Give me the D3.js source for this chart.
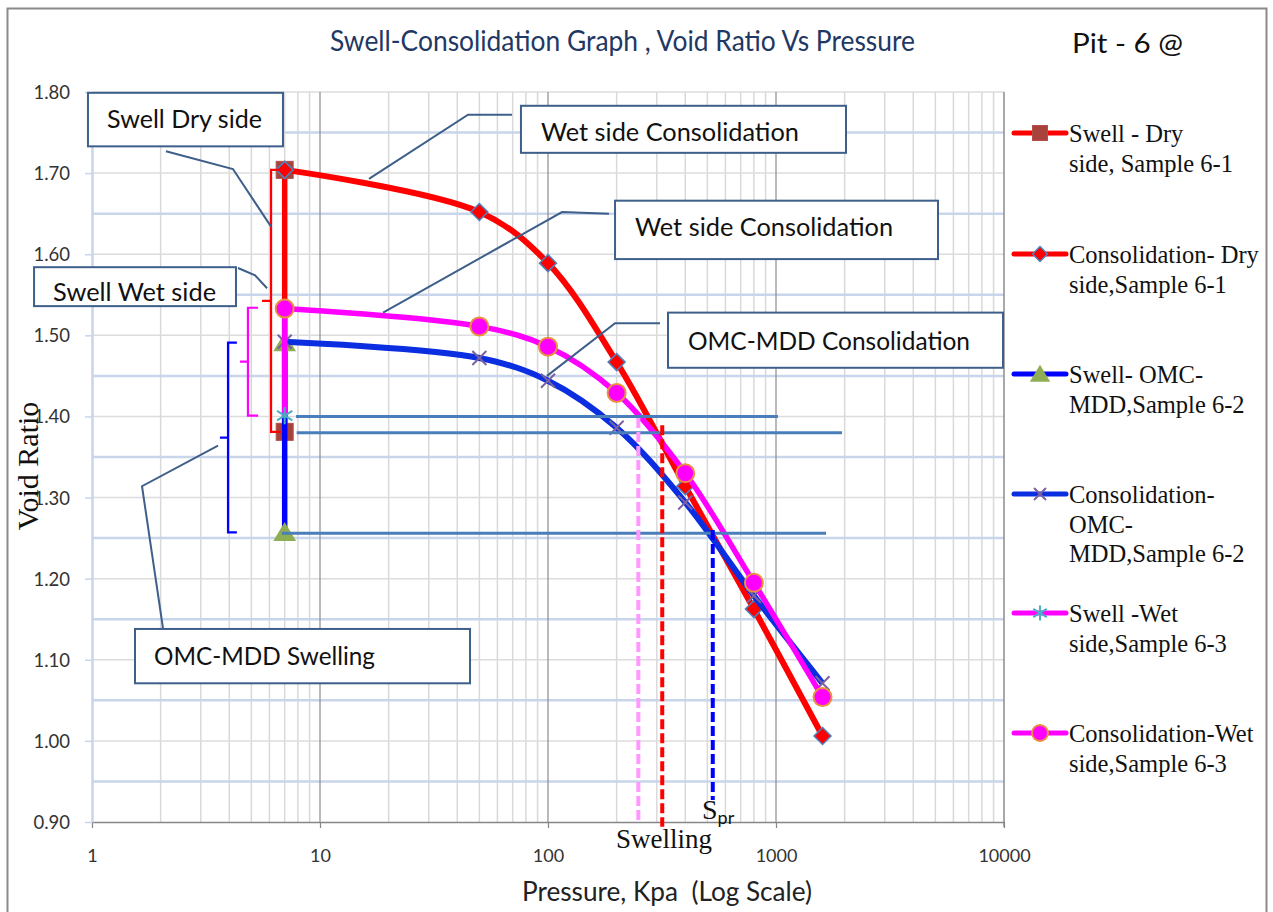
<!DOCTYPE html>
<html>
<head>
<meta charset="utf-8">
<script src="https://cdn.jsdelivr.net/npm/d3@7"></script>
<style>
  body { margin: 0; background: #fff; }
  svg { display: block; }
</style>
</head>
<body>
<svg id="chart" width="1273" height="912"></svg>
<script>
// ---- Data -------------------------------------------------------------
// Applied pressure (kPa) at each step
const swellPressure = [7, 7];
const consolidationPressure = [7, 50, 100, 200, 400, 800, 1600];

// Void ratio readings
const swellDry = [1.704, 1.381];
const consolidationDry = [1.704, 1.652, 1.589, 1.467, 1.314, 1.1625, 1.006];
const swellOmc = [1.491, 1.257];
const consolidationOmc = [1.492, 1.472, 1.444, 1.386, 1.294, 1.179, 1.071];
const swellWet = [1.534, 1.401];
const consolidationWet = [1.533, 1.511, 1.486, 1.429, 1.330, 1.195, 1.054];

// Legend labels, one entry per series (wrapped lines)
const seriesLabels = [
  ["Swell - Dry", "side, Sample 6-1"],
  ["Consolidation- Dry", "side,Sample 6-1"],
  ["Swell- OMC-", "MDD,Sample 6-2"],
  ["Consolidation-", "OMC-", "MDD,Sample 6-2"],
  ["Swell -Wet", "side,Sample 6-3"],
  ["Consolidation-Wet", "side,Sample 6-3"]
];

// Axis ticks
const xTicks = [1, 10, 100, 1000, 10000];
const yTicks = [0.90, 1.00, 1.10, 1.20, 1.30, 1.40, 1.50, 1.60, 1.70, 1.80];

// Swelling pressures (kPa) and the void-ratio levels used
const swellingPressure = [249, 317, 528];
const swellingPressureTop = [1.398, 1.389, 1.26];
const swellingPressureBottom = [0.90, 0.894, 0.927];
const referenceLevels = [1.40, 1.38, 1.256];
const referenceFrom = [7.85, 7.9, 6.81];
const referenceTo = [1020, 1947, 1657];

// ---- Layout -----------------------------------------------------------
const svg = d3.select("#chart");
const x = d3.scaleLog().domain([1, 10000]).range([92, 1004]);
const y = d3.scaleLinear().domain([0.9, 1.8]).range([822, 92]);

const SANS = "Lato, 'Open Sans', sans-serif";
const SERIF = "'Liberation Serif', 'DejaVu Serif', serif";

// outer chart frame
svg.append("rect")
  .attr("x", 7.5).attr("y", 8.5).attr("width", 1259).attr("height", 920)
  .attr("fill", "#fff").attr("stroke", "#8a8a8a").attr("stroke-width", 2);

// ---- Grid -------------------------------------------------------------
const grid = svg.append("g");
const minorX = [];
[1, 10, 100, 1000].forEach(d => { for (let k = 2; k <= 9; k++) minorX.push(d * k); });

grid.selectAll("line.minor-x").data(minorX).join("line")
  .attr("x1", d => x(d)).attr("x2", d => x(d))
  .attr("y1", y(1.8)).attr("y2", y(0.9))
  .attr("stroke", "#d9d9d9").attr("stroke-width", 1.5);

const halfSteps = d3.range(1, 19).map(i => ({ v: 0.9 + i * 0.05, half: i % 2 === 1 }));
grid.selectAll("line.h").data(halfSteps).join("line")
  .attr("x1", x(1)).attr("x2", x(10000))
  .attr("y1", d => y(d.v)).attr("y2", d => y(d.v))
  .attr("stroke", d => d.half ? "#c8d5ea" : "#dcdcdc")
  .attr("stroke-width", d => d.half ? 2.5 : 1.5);

grid.selectAll("line.major-x").data([10, 100, 1000]).join("line")
  .attr("x1", d => x(d)).attr("x2", d => x(d))
  .attr("y1", y(1.8)).attr("y2", y(0.9))
  .attr("stroke", "#8c8c8c").attr("stroke-width", 1.2);

// right edge of the plot area
grid.append("line")
  .attr("x1", x(10000)).attr("x2", x(10000))
  .attr("y1", y(1.8)).attr("y2", y(0.9) + 5)
  .attr("stroke", "#8c8c8c").attr("stroke-width", 1.5);

// ---- Axes -------------------------------------------------------------
const xAxis = svg.append("g")
  .attr("transform", `translate(0,${y(0.9)})`)
  .call(d3.axisBottom(x).tickValues(xTicks).tickFormat(d3.format("d")).tickSize(6).tickSizeOuter(0));
xAxis.select(".domain").attr("stroke", "#868686").attr("stroke-width", 1.5);
xAxis.selectAll(".tick line").attr("stroke", "#868686").attr("stroke-width", 1.2);
xAxis.selectAll(".tick text")
  .attr("y", 40).attr("dy", 0)
  .attr("font-family", SANS).attr("font-size", 18).attr("fill", "#333");

const yAxis = svg.append("g")
  .attr("transform", `translate(${x(1)},0)`)
  .call(d3.axisLeft(y).tickValues(yTicks).tickFormat(d3.format(".2f")).tickSize(7).tickSizeOuter(0));
yAxis.select(".domain").attr("stroke", "#c8d5ea").attr("stroke-width", 2.5);
yAxis.selectAll(".tick line").attr("stroke", "#c8d5ea").attr("stroke-width", 1.5);
yAxis.selectAll(".tick text")
  .attr("x", -22).attr("dy", "0.35em")
  .attr("font-family", SANS).attr("font-size", 18.5).attr("fill", "#333");

// ---- Series -----------------------------------------------------------
const markers = {
  square: (g, c, s) => g.append("rect").attr("x", -s / 2).attr("y", -s / 2).attr("width", s).attr("height", s)
    .attr("fill", c.fill).attr("stroke", c.stroke).attr("stroke-width", 1),
  diamond: (g, c, s) => g.append("path").attr("d", `M0,${-s / 2}L${s / 2},0L0,${s / 2}L${-s / 2},0Z`)
    .attr("fill", c.fill).attr("stroke", c.stroke).attr("stroke-width", 1.5),
  triangle: (g, c, s) => g.append("path").attr("d", `M0,${-s * 0.55}L${s * 0.6},${s * 0.45}L${-s * 0.6},${s * 0.45}Z`)
    .attr("fill", c.fill),
  cross: (g, c, s) => g.append("path").attr("d", `M${-s / 2},${-s / 2}L${s / 2},${s / 2}M${s / 2},${-s / 2}L${-s / 2},${s / 2}`)
    .attr("stroke", c.stroke).attr("stroke-width", 2).attr("fill", "none"),
  star: (g, c, s) => g.append("path")
    .attr("d", `M0,${-s / 2}L0,${s / 2}M${-s * 0.45},${-s * 0.28}L${s * 0.45},${s * 0.28}M${s * 0.45},${-s * 0.28}L${-s * 0.45},${s * 0.28}`)
    .attr("stroke", c.stroke).attr("stroke-width", 2).attr("fill", "none"),
  circle: (g, c, s) => g.append("circle").attr("r", s / 2)
    .attr("fill", c.fill).attr("stroke", c.stroke).attr("stroke-width", 2)
};

const series = [
  { p: swellPressure, e: swellDry, color: "#ff0000", width: 5.5, smooth: false,
    marker: "square", mc: { fill: "#a8423d", stroke: "#b54e49" }, size: 17 },
  { p: consolidationPressure, e: consolidationDry, color: "#ff0000", width: 6, smooth: true,
    marker: "diamond", mc: { fill: "#ff0000", stroke: "#4f81bd" }, size: 17 },
  { p: swellPressure, e: swellOmc, color: "#0000ff", width: 5.5, smooth: false,
    marker: "triangle", mc: { fill: "#8fad52" }, size: 19 },
  { p: consolidationPressure, e: consolidationOmc, color: "#0a2ee0", width: 6, smooth: true,
    marker: "cross", mc: { stroke: "#7c62a0" }, size: 14 },
  { p: swellPressure, e: swellWet, color: "#ff00ff", width: 5.5, smooth: false,
    marker: "star", mc: { stroke: "#4bacc6" }, size: 17 },
  { p: consolidationPressure, e: consolidationWet, color: "#ff00ff", width: 5.5, smooth: true,
    marker: "circle", mc: { fill: "#ff00ff", stroke: "#e8913e" }, size: 18 }
];

const plot = svg.append("g");
series.forEach(s => {
  const pts = s.p.map((p, i) => [p, s.e[i]]);
  const line = d3.line().x(d => x(d[0])).y(d => y(d[1]));
  if (s.smooth) line.curve(d3.curveCatmullRom.alpha(0.5));
  plot.append("path").datum(pts).attr("d", line)
    .attr("fill", "none").attr("stroke", s.color).attr("stroke-width", s.width)
    .attr("stroke-linejoin", "round");
  pts.forEach(d => {
    const g = plot.append("g").attr("transform", `translate(${x(d[0])},${y(d[1])})`);
    markers[s.marker](g, s.mc, s.size);
  });
});

// ---- Reference lines --------------------------------------------------
const refs = svg.append("g");
referenceLevels.forEach((lv, i) => {
  refs.append("line")
    .attr("x1", x(referenceFrom[i])).attr("x2", x(referenceTo[i]))
    .attr("y1", y(lv)).attr("y2", y(lv))
    .attr("stroke", "#4a7ebb").attr("stroke-width", 3);
});

const dashColors = ["#ff99ff", "#ff0000", "#0000ff"];
swellingPressure.forEach((p, i) => {
  refs.append("line")
    .attr("x1", x(p)).attr("x2", x(p))
    .attr("y1", y(swellingPressureTop[i])).attr("y2", y(swellingPressureBottom[i]))
    .attr("stroke", dashColors[i]).attr("stroke-width", 4)
    .attr("stroke-dasharray", "10,4");
});

// brackets marking the swell range of each sample
const brackets = [
  { range: swellDry, stem: 6.10, tip: 6.74, notch: 5.57, color: "#ff0000" },
  { range: swellWet, stem: 4.83, tip: 5.35, notch: 4.46, color: "#ff00ff" },
  { range: swellOmc, stem: 3.95, tip: 4.32, notch: 3.64, color: "#0000ff" }
];
brackets.forEach(b => {
  const top = y(b.range[0]), bot = y(b.range[1]), mid = (top + bot) / 2;
  refs.append("path")
    .attr("d", `M${x(b.tip)},${top}H${x(b.stem)}V${bot}H${x(b.tip)}M${x(b.stem)},${mid}H${x(b.notch)}`)
    .attr("fill", "none").attr("stroke", b.color).attr("stroke-width", 2.2);
});

// ---- Callouts ---------------------------------------------------------
// box: [pressure left, void ratio top, pressure right, void ratio bottom]
const callouts = [
  { text: "Swell Dry side", box: [0.96, 1.799, 6.88, 1.733], pad: 19, base: 35, len: 155,
    leader: [[2.11, 1.727], [4.15, 1.705], [6.10, 1.634]] },
  { text: "Swell Wet side", box: [0.557, 1.584, 4.28, 1.536], pad: 19, base: 34, len: 163,
    leader: [[4.37, 1.583], [5.19, 1.574], [5.86, 1.558]] },
  { text: "Wet side Consolidation", box: [76.1, 1.783, 2028, 1.725], pad: 20, base: 35, len: 258,
    leader: [[16.4, 1.693], [44.6, 1.772], [69.5, 1.772]] },
  { text: "Wet side Consolidation", box: [196.8, 1.666, 5135, 1.594], pad: 20, base: 35, len: 258,
    leader: [[18.9, 1.528], [115.2, 1.652], [185.1, 1.650]] },
  { text: "OMC-MDD Consolidation", box: [336, 1.528, 9899, 1.460], pad: 20, base: 37, len: 282,
    leader: [[99, 1.450], [196.8, 1.515], [310, 1.515]] },
  { text: "OMC-MDD Swelling", box: [1.544, 1.138, 45.5, 1.071], pad: 19, base: 36, len: 221,
    leader: [[2.05, 1.138], [1.657, 1.314], [3.57, 1.364]] }
];
const notes = svg.append("g");
callouts.forEach(c => {
  notes.append("path")
    .attr("d", d3.line().x(d => x(d[0])).y(d => y(d[1]))(c.leader))
    .attr("fill", "none").attr("stroke", "#3d5f8a").attr("stroke-width", 2);
  const x0 = x(c.box[0]), y0 = y(c.box[1]), x1 = x(c.box[2]), y1 = y(c.box[3]);
  notes.append("rect")
    .attr("x", x0).attr("y", y0).attr("width", x1 - x0).attr("height", y1 - y0)
    .attr("fill", "#fff").attr("stroke", "#3d5f8a").attr("stroke-width", 2);
  notes.append("text")
    .attr("x", x0 + c.pad).attr("y", y0 + c.base)
    .attr("font-family", SANS).attr("font-size", 25).attr("fill", "#111")
    .attr("textLength", c.len).attr("lengthAdjust", "spacingAndGlyphs")
    .text(c.text);
});

// swelling pressure labels under the dashed lines
svg.append("text")
  .attr("x", 616).attr("y", 848)
  .attr("font-family", SERIF).attr("font-size", 27).attr("fill", "#111")
  .text("Swelling");
const spr = svg.append("text")
  .attr("x", 702).attr("y", 819)
  .attr("font-family", SERIF).attr("font-size", 28).attr("fill", "#111");
spr.append("tspan").text("S");
spr.append("tspan").attr("font-family", SANS).attr("font-size", 18).attr("dy", 5).text("pr");

// ---- Titles -----------------------------------------------------------
svg.append("text")
  .attr("x", 330).attr("y", 51)
  .attr("font-family", SANS).attr("font-size", 28).attr("fill", "#1f3864")
  .attr("textLength", 585).attr("lengthAdjust", "spacingAndGlyphs")
  .text("Swell-Consolidation Graph , Void Ratio Vs Pressure");

svg.append("text")
  .attr("x", 1072).attr("y", 53)
  .attr("font-family", SANS).attr("font-size", 26).attr("fill", "#111")
  .attr("textLength", 111).attr("lengthAdjust", "spacingAndGlyphs")
  .text("Pit - 6 @");

svg.append("text")
  .attr("x", 522).attr("y", 901)
  .attr("font-family", SANS).attr("font-size", 26).attr("fill", "#222")
  .style("white-space", "pre")
  .attr("textLength", 290).attr("lengthAdjust", "spacingAndGlyphs")
  .text("Pressure, Kpa  (Log Scale)");

svg.append("text")
  .attr("transform", "translate(38,466) rotate(-90)")
  .attr("text-anchor", "middle")
  .attr("font-family", SERIF).attr("font-size", 30).attr("fill", "#111")
  .text("Void Ratio");

// ---- Legend -----------------------------------------------------------
const legend = svg.append("g");
const legendTop = [133, 254, 374, 494, 613, 733];
series.forEach((s, i) => {
  const ly = legendTop[i];
  legend.append("line")
    .attr("x1", 1014).attr("x2", 1066).attr("y1", ly).attr("y2", ly)
    .attr("stroke", s.color).attr("stroke-width", 5).attr("stroke-linecap", "round");
  const g = legend.append("g").attr("transform", `translate(1040,${ly})`);
  markers[s.marker](g, s.mc, s.size - 2);
  const t = legend.append("text")
    .attr("font-family", SERIF).attr("font-size", 24.5).attr("fill", "#111");
  seriesLabels[i].forEach((ln, j) => {
    t.append("tspan").attr("x", 1069).attr("y", ly + 9 + j * 29.5).text(ln);
  });
});
</script>
</body>
</html>
